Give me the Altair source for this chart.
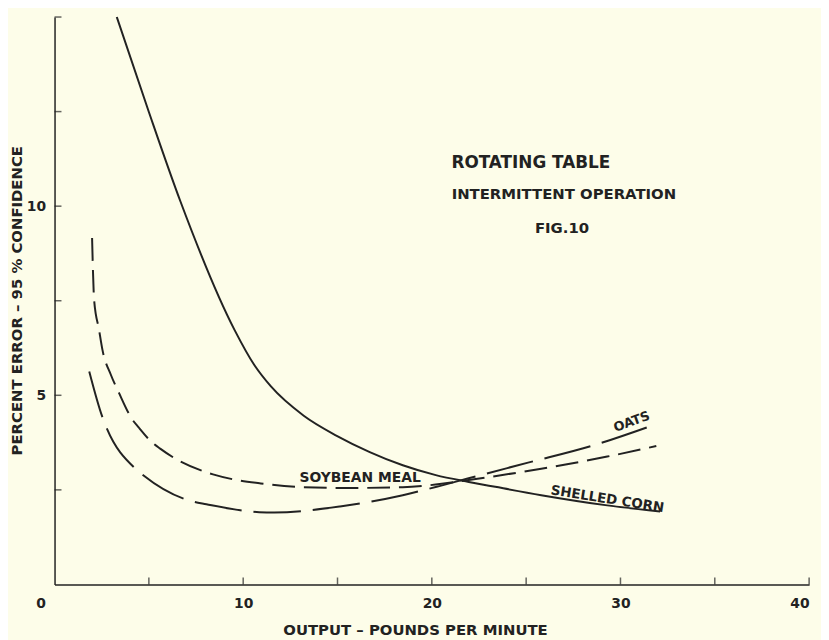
import altair as alt
import pandas as pd

INK = "#222222"
BG = "#FDFDE9"
FONT = "DejaVu Sans"

# Shelled corn (solid)
corn_x = [3.3, 5.0, 6.67, 9.54, 10.59, 11.46, 13.21, 14.96, 16.71, 18.46, 20.21, 21.96, 23.36, 25.8, 29.3, 32.1]
corn_y = [15.0, 12.49, 10.13, 6.73, 5.8, 5.24, 4.46, 3.93, 3.50, 3.15, 2.89, 2.71, 2.58, 2.36, 2.09, 1.93]

# Oats (long dash)
oats_x = [1.84, 2.54, 2.71, 4.29, 4.72, 7.26, 8.05, 10.85, 11.64, 15.13, 18.46, 20.4, 21.9, 25.1, 28.45, 31.9]
oats_y = [5.63, 4.42, 4.20, 3.06, 2.88, 2.20, 2.12, 1.91, 1.90, 2.06, 2.36, 2.60, 2.80, 3.22, 3.66, 4.24]

# Soybean meal (short dash)
soy_x = [1.99, 2.1, 2.36, 2.54, 2.98, 3.41, 4.11, 4.46, 5.16, 5.6, 6.56, 7.96, 8.4, 9.45, 10.93,
         13.2, 15.5, 18.46, 20.2, 21.96, 25.8, 29.3, 31.9]
soy_y = [9.16, 7.51, 6.73, 6.20, 5.55, 5.07, 4.37, 4.15, 3.76, 3.59, 3.28, 2.98, 2.91, 2.78, 2.67,
         2.57, 2.55, 2.57, 2.64, 2.76, 3.06, 3.38, 3.66]

x_label_values = [0, 10, 20, 30, 40]
y_label_values = [5, 10]
x_tick_values = [5, 10, 15, 20, 25, 30, 35, 40]
y_tick_values = [2.5, 5, 7.5, 10, 12.5, 15]

ann_text = ["ROTATING TABLE", "INTERMITTENT OPERATION", "FIG.10",
            "SOYBEAN MEAL", "OATS", "SHELLED CORN"]
ann_x = [25.25, 27.0, 26.9, 16.2, 30.6, 29.3]
ann_y = [11.13, 10.31, 9.42, 2.80, 4.30, 2.25]
ann_angle = [0, 0, 0, 0, 340, 9]
ann_size = [17, 15, 15, 14, 13, 13.5]

rows = []
for name, xs_, ys_ in [("corn", corn_x, corn_y), ("oats", oats_x, oats_y), ("soy", soy_x, soy_y)]:
    for a, b in zip(xs_, ys_):
        rows.append({"series": name, "x": a, "y": b})
df = pd.DataFrame(rows)

xscale = alt.Scale(domain=[0, 40], nice=False, zero=False)
yscale = alt.Scale(domain=[0, 15], nice=False, zero=False)

xaxis = alt.Axis(
    values=x_label_values, ticks=False, grid=False, labelPadding=12,
    labelOffset={"condition": {"test": "datum.value === 0", "value": -19}, "value": 0},
    title="OUTPUT – POUNDS PER MINUTE", titleX=364, titleY=46,
    titleBaseline="middle", titleAlign="center",
)
yaxis = alt.Axis(
    values=y_label_values, ticks=False, grid=False, labelPadding=9,
    title="PERCENT ERROR – 95 % CONFIDENCE", titleX=-38, titleY=286,
    titleAngle=-90, titleBaseline="middle", titleAlign="center",
)


def curve(name, dash=None):
    kw = dict(color=INK, strokeWidth=2, interpolate="monotone")
    if dash:
        kw["strokeDash"] = dash
    return (
        alt.Chart(df)
        .transform_filter(alt.datum.series == name)
        .mark_line(**kw)
        .encode(
            x=alt.X("x:Q", scale=xscale, axis=xaxis),
            y=alt.Y("y:Q", scale=yscale, axis=yaxis),
        )
    )


corn = curve("corn")
oats = curve("oats", [48, 12])
soy = curve("soy", [23, 9])

xticks = (
    alt.Chart(pd.DataFrame({"v": x_tick_values}))
    .mark_tick(orient="vertical", size=7, thickness=1.5, color=INK, yOffset=-3.5)
    .encode(x=alt.X("v:Q", scale=xscale, axis=xaxis), y=alt.datum(0))
)
yticks = (
    alt.Chart(pd.DataFrame({"v": y_tick_values}))
    .mark_tick(orient="horizontal", size=7, thickness=1.5, color=INK, xOffset=3.5)
    .encode(y=alt.Y("v:Q", scale=yscale, axis=yaxis), x=alt.datum(0))
)

ann_df = pd.DataFrame({"t": ann_text, "x": ann_x, "y": ann_y, "a": ann_angle, "s": ann_size})
ann = (
    alt.Chart(ann_df)
    .mark_text(font=FONT, fontWeight="bold", color=INK, align="center", baseline="middle")
    .encode(
        x=alt.X("x:Q", scale=xscale, axis=xaxis),
        y=alt.Y("y:Q", scale=yscale, axis=yaxis),
        text="t:N",
        angle=alt.Angle("a:Q", scale=None),
        size=alt.Size("s:Q", scale=None, legend=None),
    )
)

chart = (
    alt.layer(corn, oats, soy, xticks, yticks, ann)
    .properties(
        width=762, height=573,
        padding={"left": 47, "top": 6, "right": 12, "bottom": 54},
        autosize=alt.AutoSizeParams(type="none"),
        background=BG,
    )
    .configure_view(stroke=None)
    .configure_axis(
        domainColor=INK, domainWidth=1.5,
        labelFont=FONT, labelFontSize=14, labelFontWeight="bold", labelColor=INK,
        titleFont=FONT, titleFontSize=15, titleFontWeight="bold", titleColor=INK,
    )
)

chart.save("out.html", embed_options={"renderer": "svg", "actions": False})
